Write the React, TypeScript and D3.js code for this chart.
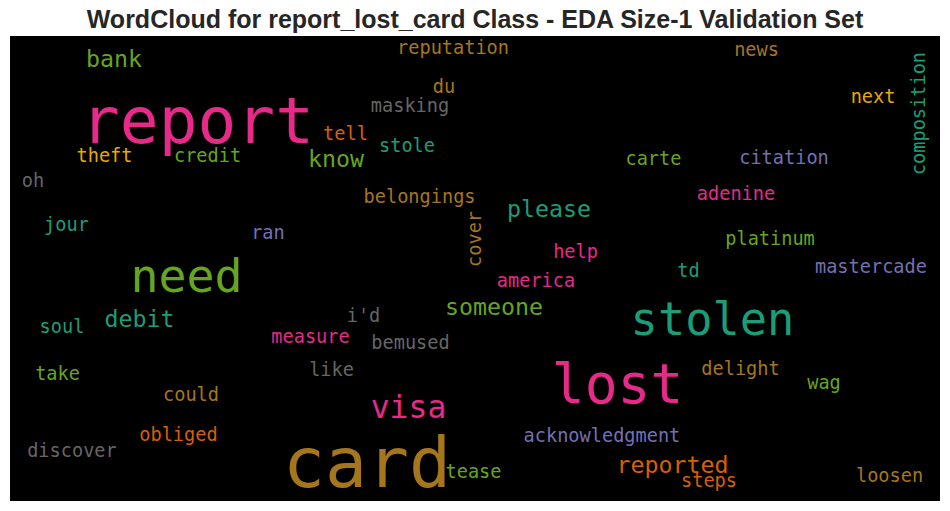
import React, { useEffect, useRef } from 'react';
import * as d3 from 'd3';

// word cloud layout (canvas units of an 800x400 cloud image)
const words = [
  'report', 'need', 'card', 'lost', 'stolen', 'visa', 'reported', 'steps',
  'acknowledgment', 'delight', 'wag', 'loosen', 'tease', 'take', 'could',
  'obliged', 'discover', 'like', 'ran', 'cover', 'jour', 'soul', 'debit',
  'measure', "i'd", 'bemused', 'someone', 'america', 'help', 'please', 'td',
  'platinum', 'mastercade', 'adenine', 'belongings', 'oh', 'theft', 'credit',
  'know', 'tell', 'stole', 'masking', 'du', 'reputation', 'news', 'next',
  'composition', 'citation', 'carte', 'bank',
];
const fontSizes = [
  55.5, 40, 60, 47, 39, 27, 20, 16,
  16, 16, 16, 16, 16, 16, 16,
  16, 16, 16, 16, 16, 16, 16, 20,
  16, 16, 16, 20, 16, 16, 20, 16,
  16, 16, 16, 16, 16, 16, 16,
  20, 16, 16, 16, 16, 16, 16, 16,
  16, 16, 16, 20,
];
const layoutX = [
  161.3, 151.8, 307.1, 522.6, 604.3, 342.8, 569.9, 601.3,
  509.2, 628.4, 700.2, 756.6, 398.7, 40.9, 155.7,
  144.9, 53.3, 276.6, 221.9, 405.2, 48.6, 44.7, 111.4,
  258.5, 304.1, 344.5, 416.3, 452.5, 486.5, 463.7, 583.7,
  653.8, 740.6, 624.5, 352.3, 19.8, 81.3, 169.9,
  280.4, 288.6, 341.5, 344.1, 373.3, 381.1, 642.2, 742.4,
  787.1, 665.8, 553.5, 89.5,
];
const layoutY = [
  92.0, 220.2, 388.0, 315.7, 257.2, 328.6, 375.9, 388.0,
  349.2, 291.6, 303.7, 383.7, 380.2, 295.9, 314.0,
  348.4, 362.2, 292.5, 174.6, 174.6, 167.7, 255.5, 250.3,
  264.1, 246.0, 269.2, 240.0, 215.9, 191.0, 155.7, 207.3,
  179.8, 203.9, 141.1, 143.7, 129.9, 108.4, 108.4,
  112.7, 89.5, 99.8, 65.4, 49.0, 15.5, 17.2, 57.6,
  66.7, 110.1, 111.0, 26.7,
];
const vertical = ['cover', 'composition'];
const colorOf: Record<string, string> = {
  report: 'pink', need: 'green', card: 'brown', lost: 'pink', stolen: 'teal',
  visa: 'pink', reported: 'orange', steps: 'orange', acknowledgment: 'purple',
  delight: 'brown', wag: 'green', loosen: 'brown', tease: 'green', take: 'green',
  could: 'brown', obliged: 'orange', discover: 'grey', like: 'grey', ran: 'purple',
  cover: 'brown', jour: 'teal', soul: 'teal', debit: 'teal', measure: 'pink',
  "i'd": 'grey', bemused: 'grey', someone: 'green', america: 'pink', help: 'pink',
  please: 'teal', td: 'teal', platinum: 'green', mastercade: 'purple',
  adenine: 'pink', belongings: 'brown', oh: 'grey', theft: 'yellow',
  credit: 'green', know: 'green', tell: 'orange', stole: 'teal', masking: 'grey',
  du: 'brown', reputation: 'brown', news: 'brown', next: 'yellow',
  composition: 'teal', citation: 'purple', carte: 'green', bank: 'green',
};

const TITLE = 'WordCloud for report_lost_card Class - EDA Size-1 Validation Set';

export default function App() {
  const svgRef = useRef<SVGSVGElement>(null);
  const width = 950;
  const height = 511;

  useEffect(() => {
    if (!svgRef.current) return;
    const svg = d3.select(svgRef.current);
    svg.selectAll('*').remove();

    const box = { left: 10, top: 36, right: 940, bottom: 501 };

    // Dark2 palette
    const color = d3
      .scaleOrdinal<string, string>()
      .domain(['teal', 'orange', 'purple', 'pink', 'green', 'yellow', 'brown', 'grey'])
      .range(d3.schemeDark2 as string[]);

    const xScale = d3.scaleLinear().domain([0, 800]).range([box.left, box.right]);
    const yScale = d3.scaleLinear().domain([0, 400]).range([box.top, box.bottom]);
    const sizeScale = d3.scaleLinear().domain([0, 800]).range([0, box.right - box.left]);

    svg.append('rect').attr('width', width).attr('height', height).attr('fill', '#ffffff');

    svg
      .append('rect')
      .attr('x', box.left)
      .attr('y', box.top)
      .attr('width', box.right - box.left)
      .attr('height', box.bottom - box.top)
      .attr('fill', '#000000');

    const data = words.map((w, i) => ({
      word: w,
      size: fontSizes[i],
      x: layoutX[i],
      y: layoutY[i],
      rotated: vertical.includes(w),
    }));

    svg
      .append('g')
      .selectAll('text')
      .data(data)
      .enter()
      .append('text')
      .attr('transform', (d) =>
        `translate(${xScale(d.x)}, ${yScale(d.y)})${d.rotated ? ' rotate(-90)' : ''}`
      )
      .attr('text-anchor', 'middle')
      .attr('font-family', '"DejaVu Sans Mono", monospace')
      .attr('font-size', (d) => `${sizeScale(d.size)}px`)
      .attr('fill', (d) => color(colorOf[d.word]))
      .text((d) => d.word);

    svg
      .append('text')
      .attr('x', width / 2)
      .attr('y', 28)
      .attr('text-anchor', 'middle')
      .attr('font-family', '"Liberation Sans", Arial, sans-serif')
      .attr('font-weight', 'bold')
      .attr('font-size', '25px')
      .attr('fill', '#262626')
      .text(TITLE);
  }, []);

  return (
    <svg
      ref={svgRef}
      width={width}
      height={height}
      style={{ position: 'absolute', left: 0, top: 0 }}
    ></svg>
  );
}
